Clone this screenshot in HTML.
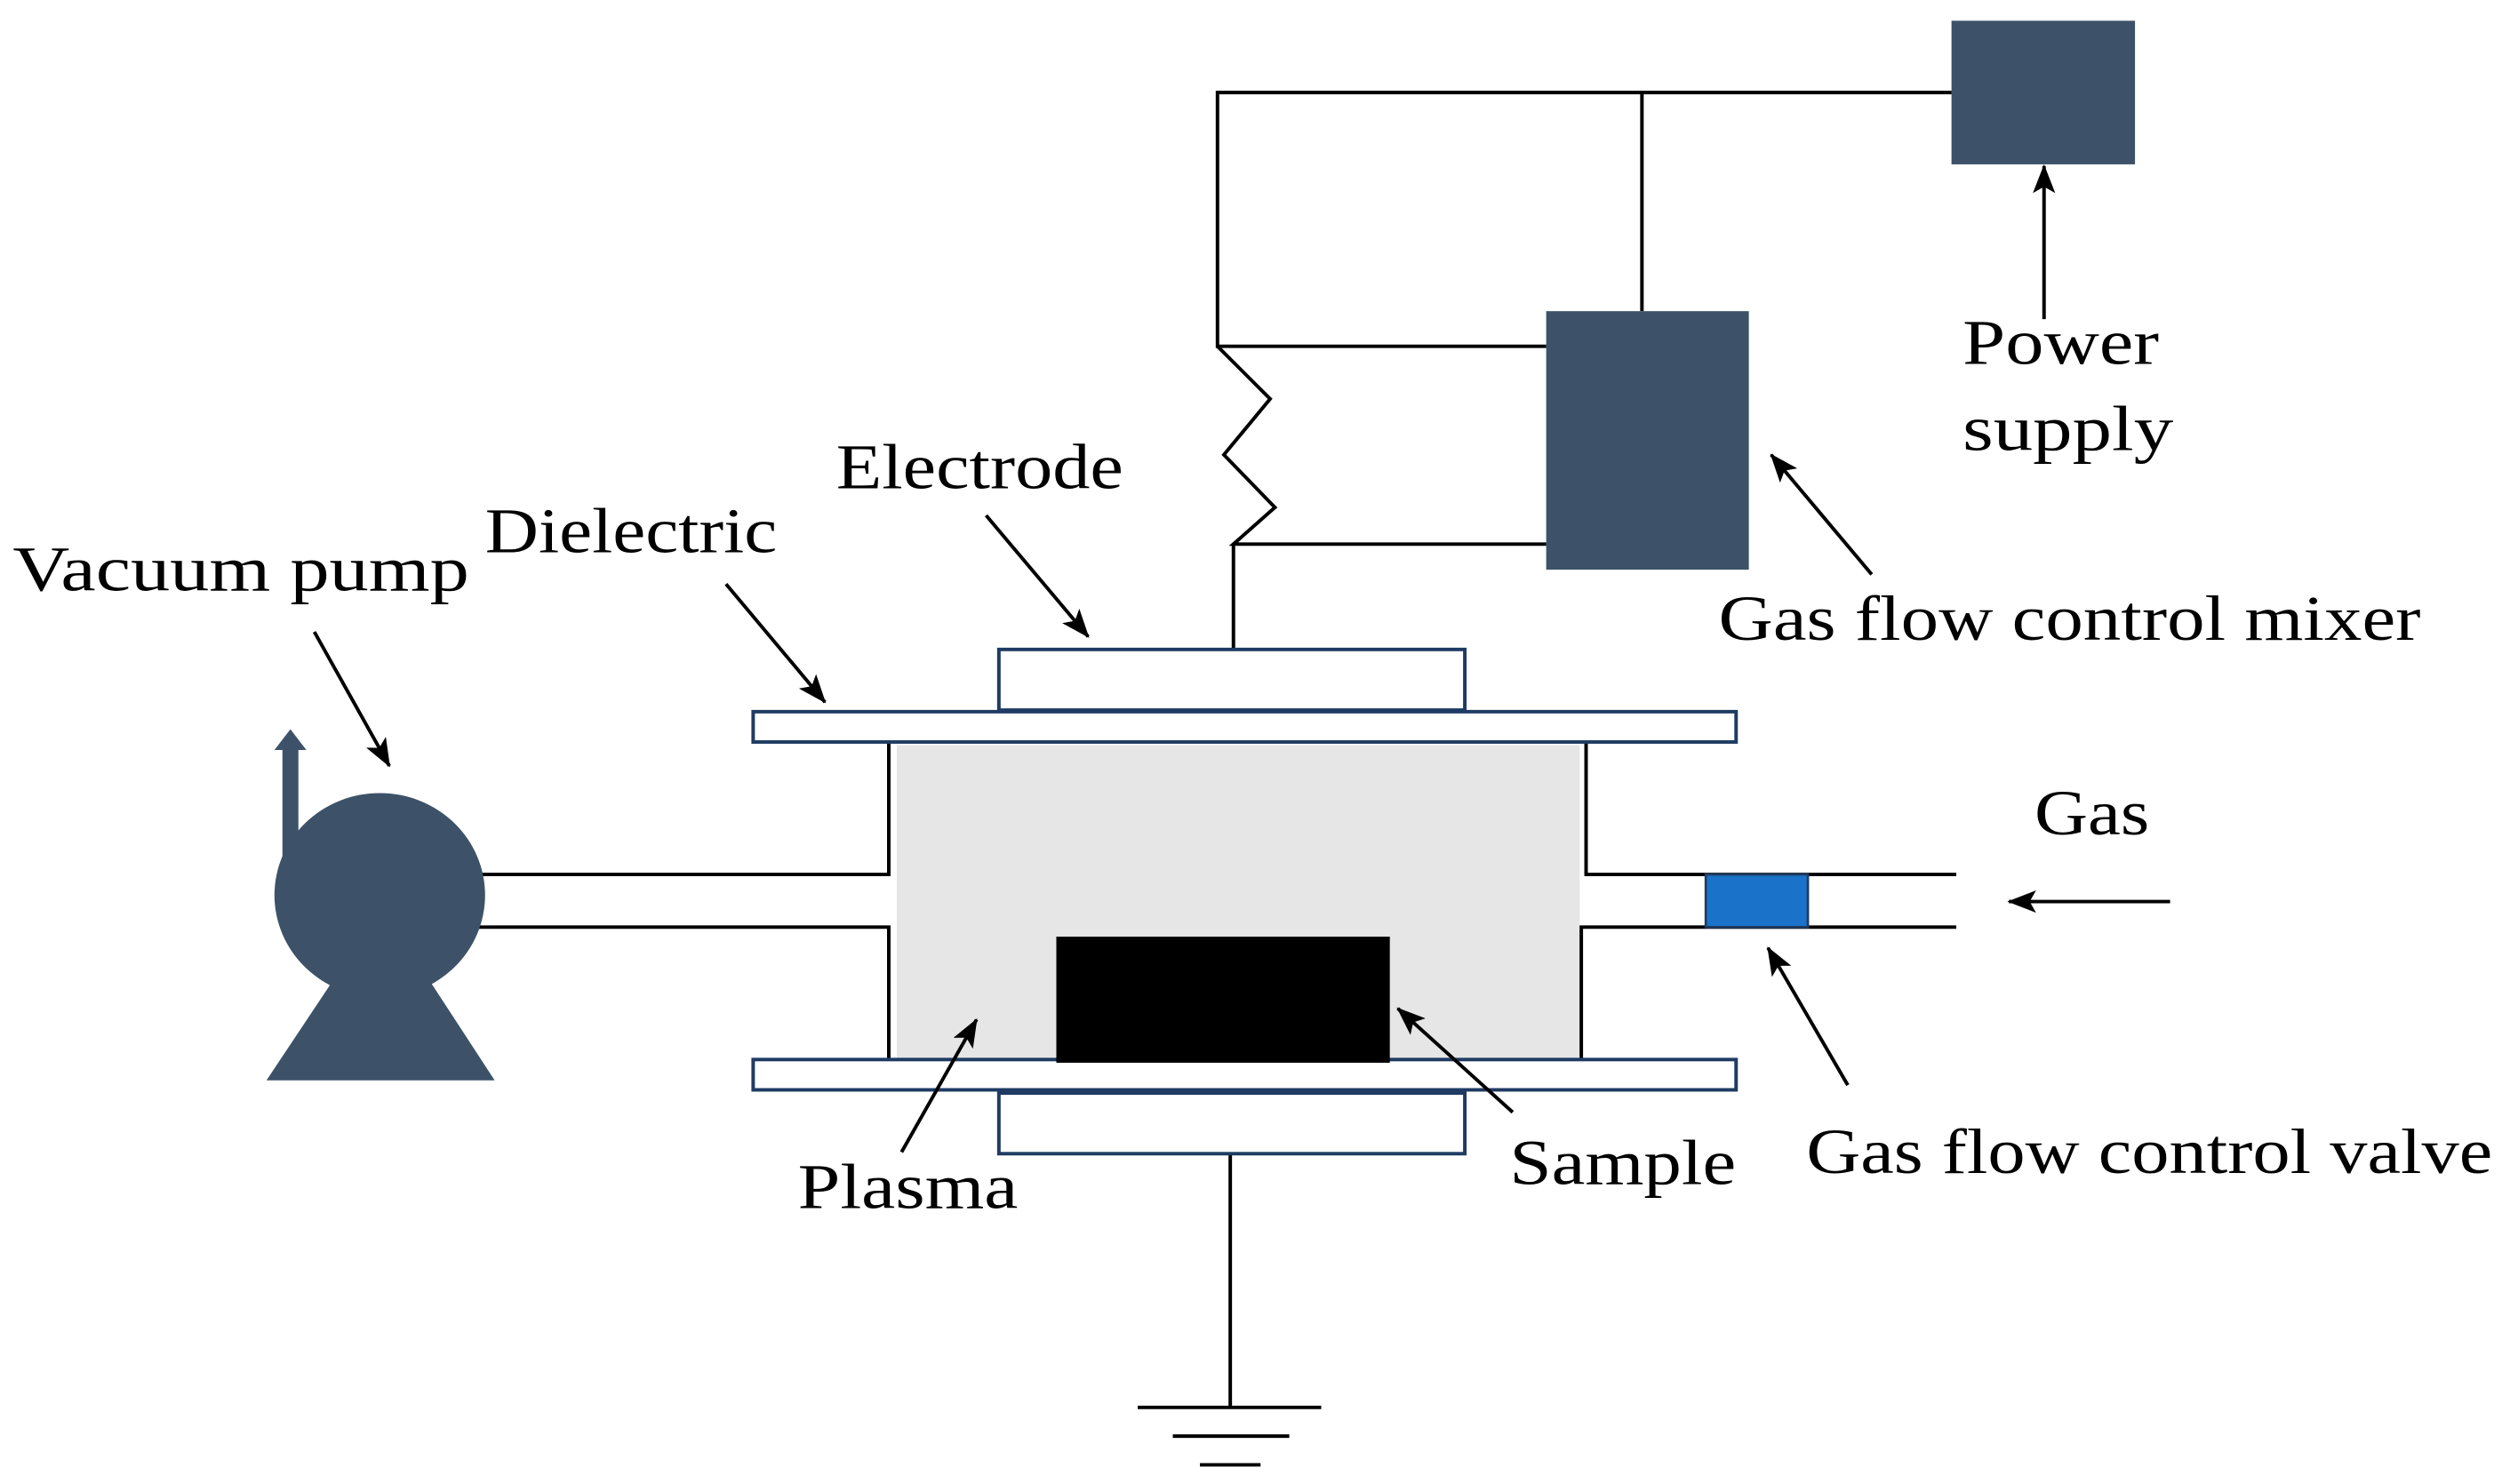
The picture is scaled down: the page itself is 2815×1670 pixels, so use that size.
<!DOCTYPE html>
<html><head><style>html,body{margin:0;padding:0;background:#fff}svg{display:block}</style></head><body>
<svg width="2815" height="1670" viewBox="0 0 1568 930" preserveAspectRatio="none" xmlns="http://www.w3.org/2000/svg">
<defs><marker id="a" markerWidth="18" markerHeight="14" refX="17" refY="7" orient="auto" markerUnits="userSpaceOnUse" viewBox="0 0 18 14"><path d="M0,0 L18,7 L0,14 L4,7 Z" fill="#000"/></marker></defs>
<g stroke="#000" stroke-width="2.2" fill="none">
<polyline points="1223,58 763,58 763,217 969,217"/>
<line x1="1029" y1="58" x2="1029" y2="195"/>
<polyline points="763,217 796,250 767,285 799,318 773,341 969,341"/>
<line x1="773" y1="341" x2="773" y2="407"/>
</g>
<rect x="1223" y="13" width="115" height="90" fill="#3d5268"/>
<rect x="969" y="195" width="127" height="162" fill="#3d5268"/>
<rect x="562" y="467" width="428" height="196" fill="#e6e6e6"/>
<g stroke="#000" stroke-width="2.2" fill="none">
<polyline points="557,465 557,548 300,548"/>
<polyline points="557,663 557,581 300,581"/>
<polyline points="994,465 994,548 1226,548"/>
<polyline points="991,663 991,581 1226,581"/>
<line x1="771" y1="723" x2="771" y2="882"/>
<line x1="713" y1="882" x2="828" y2="882"/>
<line x1="735" y1="900" x2="808" y2="900"/>
<line x1="752" y1="918" x2="790" y2="918"/>
</g>
<g fill="#fff" stroke="#1f3b63" stroke-width="2.2">
<rect x="626" y="407" width="292" height="38"/>
<rect x="472" y="446" width="616" height="19"/>
<rect x="472" y="664" width="616" height="19"/>
<rect x="626" y="685" width="292" height="38"/>
</g>
<rect x="1069" y="548" width="64" height="33" fill="#1a73c8" stroke="#1f3b63" stroke-width="1.5"/>
<rect x="662" y="587" width="209" height="79" fill="#000"/>
<g fill="#3d5268">
<rect x="177" y="470" width="10" height="80"/>
<path d="M172,470 L182,457 L192,470 Z"/>
<path d="M215,605 L263,605 L310,677 L167,677 Z"/>
<ellipse cx="238" cy="561" rx="66" ry="64"/>
</g>
<g stroke="#000" stroke-width="2.2" marker-end="url(#a)">
<line x1="197" y1="396" x2="244" y2="480"/>
<line x1="455" y1="366" x2="517" y2="440"/>
<line x1="618" y1="323" x2="682" y2="399"/>
<line x1="565" y1="722" x2="612" y2="639"/>
<line x1="948" y1="697" x2="876" y2="632"/>
<line x1="1158" y1="680" x2="1108" y2="594"/>
<line x1="1173" y1="360" x2="1110" y2="285"/>
<line x1="1281" y1="200" x2="1281" y2="104"/>
<line x1="1360" y1="565" x2="1259" y2="565"/>
</g>
<g font-family="'Liberation Serif',serif" font-size="40" fill="#000">
<text x="8" y="370" textLength="286" lengthAdjust="spacingAndGlyphs">Vacuum pump</text>
<text x="304" y="346" textLength="183" lengthAdjust="spacingAndGlyphs">Dielectric</text>
<text x="524" y="306" textLength="180" lengthAdjust="spacingAndGlyphs">Electrode</text>
<text x="1230" y="228" textLength="123" lengthAdjust="spacingAndGlyphs">Power</text>
<text x="1230" y="282" textLength="132" lengthAdjust="spacingAndGlyphs">supply</text>
<text x="1077" y="401" textLength="440" lengthAdjust="spacingAndGlyphs">Gas flow control mixer</text>
<text x="1275" y="523" textLength="72" lengthAdjust="spacingAndGlyphs">Gas</text>
<text x="1132" y="735" textLength="430" lengthAdjust="spacingAndGlyphs">Gas flow control valve</text>
<text x="946" y="742" textLength="142" lengthAdjust="spacingAndGlyphs">Sample</text>
<text x="500" y="757" textLength="138" lengthAdjust="spacingAndGlyphs">Plasma</text>
</g>
</svg>
</body></html>
